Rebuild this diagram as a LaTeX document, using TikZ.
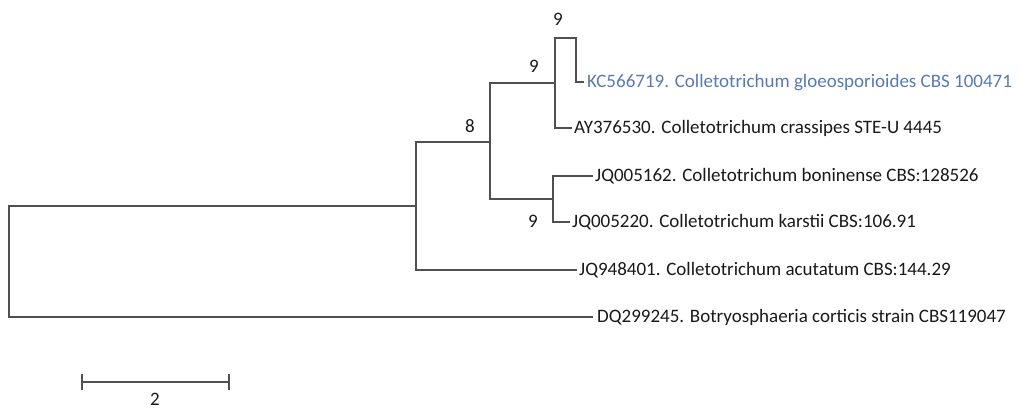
\documentclass[tikz,border=0pt]{standalone}
\usepackage{fontspec}
\setmainfont{Carlito}
\definecolor{branch}{RGB}{80,80,80}
\definecolor{taxtext}{RGB}{25,25,25}
\definecolor{hilite}{RGB}{88,122,178}
\tikzset{
  br/.style={draw=branch, line width=1.2pt, line cap=rect},
  taxon/.style={anchor=base west, inner xsep=0pt, inner ysep=0pt, font=\fontsize{19}{21}\selectfont, text=taxtext},
  boot/.style={anchor=base, inner sep=0pt, font=\fontsize{19}{21}\selectfont, text=taxtext}
}
\begin{document}
\begin{tikzpicture}[x=1pt,y=-1pt]
\useasboundingbox (0,0) rectangle (1021,408);
% internal nodes
\coordinate (root) at (9,261);
\coordinate (n1) at (416,206);
\coordinate (n2) at (490,142);
\coordinate (n3) at (555,83);
\coordinate (n4) at (576,38);
\coordinate (n5) at (553,199);
% leaf ends
\coordinate (eKC) at (583,82);
\coordinate (eAY) at (571,128);
\coordinate (eJ1) at (592,176);
\coordinate (eJ2) at (569,222);
\coordinate (eJ3) at (576,270);
\coordinate (eDQ) at (592,317);
% labels
\node[taxon, text=hilite] (tKC) at (587,87) {KC566719. Colletotrichum gloeosporioides CBS 100471};
\node[taxon] (tAY) at (574,133) {AY376530. Colletotrichum crassipes STE-U 4445};
\node[taxon] (tJ1) at (595,181) {JQ005162. Colletotrichum boninense CBS:128526};
\node[taxon] (tJ2) at (572,227) {JQ005220. Colletotrichum karstii CBS:106.91};
\node[taxon] (tJ3) at (579,275) {JQ948401. Colletotrichum acutatum CBS:144.29};
\node[taxon] (tDQ) at (597,322) {DQ299245. Botryosphaeria corticis strain CBS119047};
% bootstrap values
\node[boot] (b1) at (558,25) {9};
\node[boot] (b2) at (534,72) {9};
\node[boot] (b3) at (470,132) {8};
\node[boot] (b4) at (533,227) {9};
% branches
\draw[br] (n1) |- (9,206) |- (eDQ);
\draw[br] (n2) |- (416,142) |- (eJ3);
\draw[br] (n3) |- (490,83) |- (n5);
\draw[br] (eKC) -| (n4) -| (555,128) -- (eAY);
\draw[br] (eJ1) -| (553,222) -- (eJ2);
% scale bar
\coordinate (sL) at (82,382);
\coordinate (sR) at (229,382);
\draw[br] (sL) -- (sR);
\draw[br] ([yshift=-7pt]sL) -- ([yshift=7pt]sL);
\draw[br] ([yshift=-7pt]sR) -- ([yshift=7pt]sR);
\node[boot] (sc) at (155,405) {2};
\end{tikzpicture}
\end{document}
